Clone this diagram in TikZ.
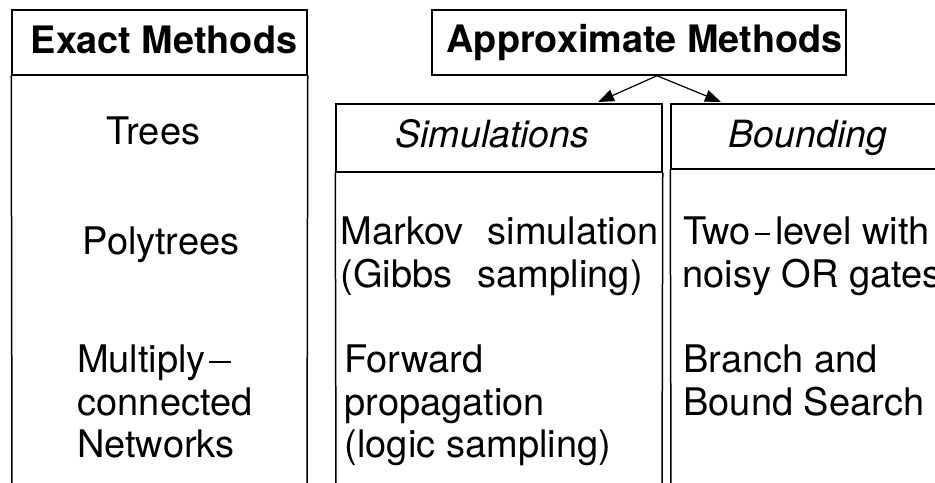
\documentclass[tikz,border=0pt]{standalone}
\usepackage{fontspec}
\setmainfont{TeX Gyre Heros}
\usetikzlibrary{arrows.meta,calc}

% dashes used in hyphenated labels
\newcommand\longdash{\kern3bp\rule[10bp]{22bp}{2.2bp}}
\newcommand\shortdash{\kern4bp\rule[10bp]{15bp}{2.2bp}\kern5bp}

\begin{document}
\begin{tikzpicture}[x=1bp,y=-1bp,
  frame/.style={draw, line width=1.5bp, inner sep=0pt},
  txt/.style={inner sep=0pt, font=\fontsize{38bp}{42bp}\selectfont},
  ttl/.style={inner sep=0pt, font=\fontsize{37.8bp}{42bp}\selectfont\bfseries},
  sub/.style={inner sep=0pt, font=\fontsize{37.5bp}{42bp}\selectfont\itshape},
  tip/.style={-{Triangle[length=16bp,width=12bp]}, line width=1.2bp}]

\clip (0,0) rectangle (935,483);
\fill[white] (0,0) rectangle (935,483);

% column headers
\node[frame, minimum width=295bp, minimum height=65bp] (exhd) at (159.5,42.5) {};
\node[frame, minimum width=414bp, minimum height=65bp] (apx) at (639,42.5) {};
\node[frame, minimum width=326bp, minimum height=68bp] (simhd) at (499,138) {};
\node[frame, minimum width=289bp, minimum height=65bp] (bndhd) at (815.5,136.5) {};

% open-ended column sides
\draw[line width=1.5bp] (exhd.south west) -- (12,495);
\draw[line width=1.5bp] (exhd.south east) -- (307,495);
\draw[line width=1.5bp] (simhd.south west) -- (336,495);
\draw[line width=1.5bp] (simhd.south east) -- (662,495);
\draw[line width=1.5bp] (bndhd.south west) -- (671,495);

% header titles
\node[ttl, anchor=base] (exT) at (164,54) {Exact Methods};
\node[ttl, anchor=base] (apT) at (644.5,53) {Approximate Methods};
\node[sub, anchor=base] (simT) at (492.5,148) {Simulations};
\node[sub, anchor=base] (bndT) at (808,148) {Bounding};

% branching arrows
\coordinate (fork) at ($(apx.south)+(18,0)$);
\coordinate (simIn) at (598,102);
\coordinate (bndIn) at (721,102);
\draw[tip] (fork) -- (simIn);
\draw[tip] (fork) -- (bndIn);

% exact methods
\node[txt, anchor=base] (trees) at (153.5,145) {Trees};
\node[txt, anchor=base] (poly) at (161,255) {Polytrees};
\node[txt, anchor=base west] (mc1) at (77,373) {Multiply\longdash};
\node[txt, anchor=base west] (mc2) at (77.5,415) {connected};
\node[txt, anchor=base west] (mc3) at (77,457) {Networks};

% simulations
\node[txt, anchor=base west] (mk1) at (340.5,245) {\makebox[318bp][s]{Markov simulation}};
\node[txt, anchor=base west] (mk2) at (340.5,288) {\makebox[302bp][s]{(Gibbs sampling)}};
\node[txt, anchor=base west] (fw1) at (344,373) {Forward};
\node[txt, anchor=base west] (fw2) at (344.5,415) {propagation};
\node[txt, anchor=base west] (fw3) at (344.5,457) {(logic sampling)};

% bounding
\node[txt, anchor=base west] (bd1) at (683,245) {Two\shortdash level with};
\node[txt, anchor=base west] (bd2) at (682.5,288) {noisy OR gates};
\node[txt, anchor=base west] (bb1) at (683.3,373) {Branch and};
\node[txt, anchor=base west] (bb2) at (683.3,415) {Bound Search};
\end{tikzpicture}
\end{document}
